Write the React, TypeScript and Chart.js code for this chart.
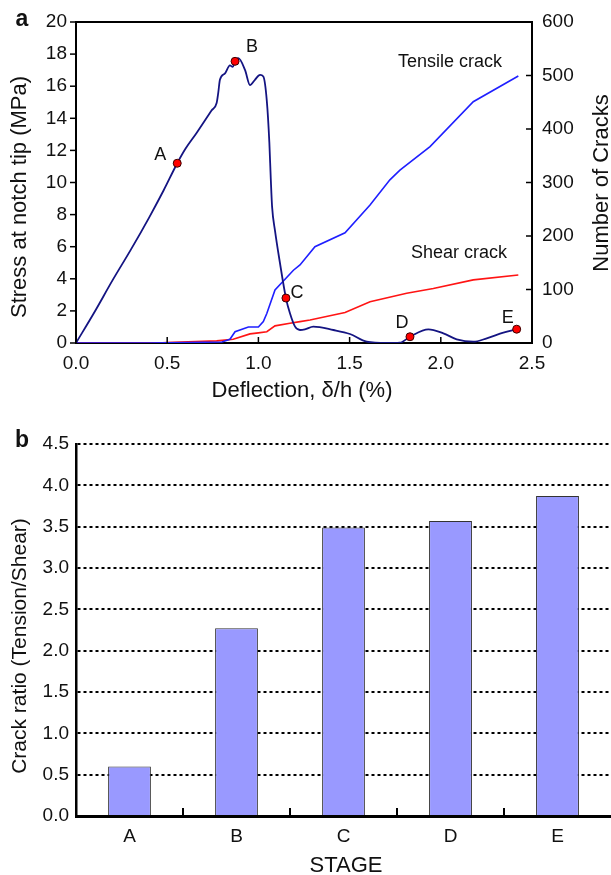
import React, { useEffect, useRef } from "react";
import { Chart, registerables } from "chart.js";

Chart.register(...registerables);

const FONT = "'Liberation Sans', Arial, Helvetica, sans-serif";

// ---------- Panel a data ----------
const deflectionStress = [0, 0.1, 0.2, 0.3, 0.4, 0.48, 0.555, 0.6, 0.662, 0.744, 0.771, 0.78, 0.789, 0.817, 0.844, 0.859, 0.872, 0.89, 0.927, 0.954, 0.981, 1.009, 1.027, 1.046, 1.06, 1.068, 1.075, 1.091, 1.118, 1.151, 1.173, 1.201, 1.228, 1.255, 1.301, 1.411, 1.502, 1.594, 1.703, 1.776, 1.831, 1.932, 2.014, 2.087, 2.178, 2.252, 2.343, 2.416];
const stressMPa = [0, 1.9, 3.9, 5.8, 7.8, 9.5, 11.2, 12.1, 13.1, 14.5, 14.95, 15.6, 16.4, 16.8, 17.3, 17.2, 17.55, 17.75, 17.0, 16.07, 16.4, 16.7, 16.6, 15.1, 12.5, 10.2, 8.5, 7.0, 5.0, 2.8, 1.85, 1.02, 0.81, 0.85, 1.02, 0.81, 0.56, 0.08, 0.0, 0.02, 0.39, 0.85, 0.6, 0.23, 0.08, 0.29, 0.64, 0.86];

const deflectionTensile = [0, 0.4, 0.6, 0.8, 0.844, 0.872, 0.945, 1.0, 1.027, 1.046, 1.091, 1.192, 1.228, 1.31, 1.475, 1.612, 1.721, 1.776, 1.941, 2.178, 2.425];
const tensileCracks = [0, 0, 1, 2, 7, 21, 30, 30, 40, 55, 99, 136, 146, 180, 206, 258, 305, 323, 367, 451, 499];

const deflectionShear = [0, 0.45, 0.497, 0.771, 0.862, 0.954, 1.0, 1.046, 1.091, 1.173, 1.228, 1.283, 1.475, 1.612, 1.813, 1.959, 2.178, 2.425];
const shearCracks = [0, 0, 1, 4, 7, 17, 19, 21, 32, 37, 40, 43, 57, 77, 93, 102, 118, 127];

const stageNames = ["A", "B", "C", "D", "E"];
const stageDeflection = [0.555, 0.872, 1.151, 1.831, 2.416];
const stageStress = [11.2, 17.55, 2.8, 0.39, 0.86];

const curveLabelText = ["Tensile crack", "Shear crack"];
const curveLabelDeflection = [2.05, 2.1];
const curveLabelCracks = [525, 168];

// ---------- Panel b data ----------
const stages = ["A", "B", "C", "D", "E"];
const crackRatio = [0.6, 2.27, 3.49, 3.57, 3.87];

// label offsets (style only)
const stageLabelOffset: [number, number][] = [[-17, -8], [17, -14], [11, -5], [-8, -14], [-9, -11]];

const tickFont = { family: FONT, size: 19 };

function drawText(ctx: CanvasRenderingContext2D, text: string, x: number, y: number, font: string, rot = 0) {
  ctx.save();
  ctx.translate(x, y);
  ctx.rotate(rot);
  ctx.font = font;
  ctx.fillStyle = "#111";
  ctx.textAlign = "center";
  ctx.textBaseline = "middle";
  ctx.fillText(text, 0, 0);
  ctx.restore();
}

function line(ctx: CanvasRenderingContext2D, x1: number, y1: number, x2: number, y2: number) {
  ctx.beginPath();
  ctx.moveTo(x1, y1);
  ctx.lineTo(x2, y2);
  ctx.stroke();
}

const panelAPlugin = {
  id: "panelA",
  afterDraw(chart: any) {
    const { ctx, chartArea, scales } = chart;
    const { left, right, top, bottom } = chartArea;
    ctx.save();
    ctx.strokeStyle = "#000";
    ctx.lineWidth = 2;
    line(ctx, left - 1, top, right + 1, top);
    ctx.lineWidth = 1.5;
    scales.x.ticks.forEach((t: any) => {
      const px = scales.x.getPixelForValue(t.value);
      line(ctx, px, bottom, px, bottom - 6);
    });
    scales.y.ticks.forEach((t: any) => {
      const py = scales.y.getPixelForValue(t.value);
      line(ctx, left - 6, py, left, py);
    });
    scales.y2.ticks.forEach((t: any) => {
      const py = scales.y2.getPixelForValue(t.value);
      line(ctx, right - 6, py, right, py);
    });
    ctx.restore();

    const annFont = `18px ${FONT}`;
    stageNames.forEach((n, i) => {
      const px = scales.x.getPixelForValue(stageDeflection[i]);
      const py = scales.y.getPixelForValue(stageStress[i]);
      drawText(ctx, n, px + stageLabelOffset[i][0], py + stageLabelOffset[i][1], annFont);
    });
    curveLabelText.forEach((t, i) => {
      drawText(ctx, t, scales.x.getPixelForValue(curveLabelDeflection[i]), scales.y2.getPixelForValue(curveLabelCracks[i]), annFont);
    });

    const titleFont = `22px ${FONT}`;
    drawText(ctx, "a", 22, 20, `bold 23px ${FONT}`);
    drawText(ctx, "Stress at notch tip (MPa)", 20, 197, titleFont, -Math.PI / 2);
    drawText(ctx, "Number of Cracks", 602, 183, titleFont, -Math.PI / 2);
    drawText(ctx, "Deflection, \u03b4/h (%)", 302, 391, titleFont);
  },
};

const panelBPlugin = {
  id: "panelB",
  afterDraw(chart: any) {
    const { ctx, chartArea, scales } = chart;
    const { bottom } = chartArea;
    ctx.save();
    ctx.strokeStyle = "#000";
    ctx.lineWidth = 2;
    for (let i = 1; i < stages.length; i++) {
      const px = (scales.x.getPixelForValue(i - 1) + scales.x.getPixelForValue(i)) / 2;
      line(ctx, px, bottom, px, bottom - 8);
    }
    ctx.restore();
    drawText(ctx, "b", 22, 31, `bold 23px ${FONT}`);
    drawText(ctx, "Crack ratio (Tension/Shear)", 20, 236, `21px ${FONT}`, -Math.PI / 2);
    drawText(ctx, "STAGE", 346, 456, `22px ${FONT}`);
  },
};

function makeChartA(canvas: HTMLCanvasElement) {
  return new Chart(canvas, {
    type: "line",
    data: {
      datasets: [
        {
          data: stageDeflection.map((x, i) => ({ x, y: stageStress[i] })),
          yAxisID: "y",
          showLine: false,
          pointRadius: 4,
          pointBackgroundColor: "#ff0000",
          pointBorderColor: "#3a0000",
          pointBorderWidth: 1,
        },
        {
          data: deflectionStress.map((x, i) => ({ x, y: stressMPa[i] })),
          yAxisID: "y",
          borderColor: "#141482",
          borderWidth: 1.8,
          pointRadius: 0,
          cubicInterpolationMode: "monotone",
        },
        {
          data: deflectionTensile.map((x, i) => ({ x, y: tensileCracks[i] })),
          yAxisID: "y2",
          borderColor: "#1f1fff",
          borderWidth: 1.6,
          pointRadius: 0,
        },
        {
          data: deflectionShear.map((x, i) => ({ x, y: shearCracks[i] })),
          yAxisID: "y2",
          borderColor: "#ff1414",
          borderWidth: 1.6,
          pointRadius: 0,
        },
      ],
    },
    options: {
      animation: false,
      responsive: false,
      devicePixelRatio: 1,
      layout: { padding: { top: 22, left: 0, right: 0, bottom: 0 } },
      plugins: { legend: { display: false }, tooltip: { enabled: false } },
      scales: {
        x: {
          type: "linear",
          min: 0,
          max: 2.5,
          ticks: { stepSize: 0.5, autoSkip: false, maxRotation: 0, color: "#111", font: tickFont, padding: 9, callback: (v: any) => Number(v).toFixed(1) },
          grid: { display: false, drawTicks: false },
          border: { display: true, color: "#000", width: 2 },
          afterFit: (s: any) => { s.height = 67; },
        },
        y: {
          position: "left",
          min: 0,
          max: 20,
          ticks: { stepSize: 2, autoSkip: false, color: "#111", font: tickFont, padding: 9 },
          grid: { display: false, drawTicks: false },
          border: { display: true, color: "#000", width: 2 },
          afterFit: (s: any) => { s.width = 76; },
        },
        y2: {
          position: "right",
          min: 0,
          max: 600,
          ticks: { stepSize: 100, autoSkip: false, color: "#111", font: tickFont, padding: 10 },
          grid: { display: false, drawTicks: false },
          border: { display: true, color: "#000", width: 2 },
          afterFit: (s: any) => { s.width = 79; },
        },
      },
    } as any,
    plugins: [panelAPlugin],
  });
}

function makeChartB(canvas: HTMLCanvasElement) {
  return new Chart(canvas, {
    type: "bar",
    data: {
      labels: stages,
      datasets: [
        {
          data: crackRatio,
          backgroundColor: "#9999ff",
          borderColor: "#333",
          borderWidth: 1,
          barPercentage: 0.4,
          categoryPercentage: 1,
        },
      ],
    },
    options: {
      animation: false,
      responsive: false,
      devicePixelRatio: 1,
      layout: { padding: { top: 34, left: 0, right: 0, bottom: 0 } },
      plugins: { legend: { display: false }, tooltip: { enabled: false } },
      scales: {
        x: {
          ticks: { color: "#111", font: tickFont, padding: 9, maxRotation: 0 },
          grid: { display: false, drawTicks: false },
          border: { display: true, color: "#000", width: 3 },
          afterFit: (s: any) => { s.height = 59; },
        },
        y: {
          min: 0,
          max: 4.5,
          ticks: { stepSize: 0.5, autoSkip: false, color: "#111", font: tickFont, padding: 7, callback: (v: any) => Number(v).toFixed(1) },
          grid: { display: true, drawTicks: false, color: "#000", lineWidth: 2 },
          border: { display: true, color: "#000", width: 2.5, dash: [3, 3] },
          afterFit: (s: any) => { s.width = 76; },
        },
      },
    } as any,
    plugins: [panelBPlugin],
  });
}

export default function App() {
  const refA = useRef<HTMLCanvasElement>(null);
  const refB = useRef<HTMLCanvasElement>(null);
  useEffect(() => {
    const a = makeChartA(refA.current!);
    const b = makeChartB(refB.current!);
    return () => {
      a.destroy();
      b.destroy();
    };
  }, []);
  return (
    <div style={{ position: "absolute", left: 0, top: 0, width: 611, height: 875, background: "#fff" }}>
      <canvas ref={refA} width={611} height={410} style={{ position: "absolute", left: 0, top: 0 }} />
      <canvas ref={refB} width={611} height={465} style={{ position: "absolute", left: 0, top: 410 }} />
    </div>
  );
}
